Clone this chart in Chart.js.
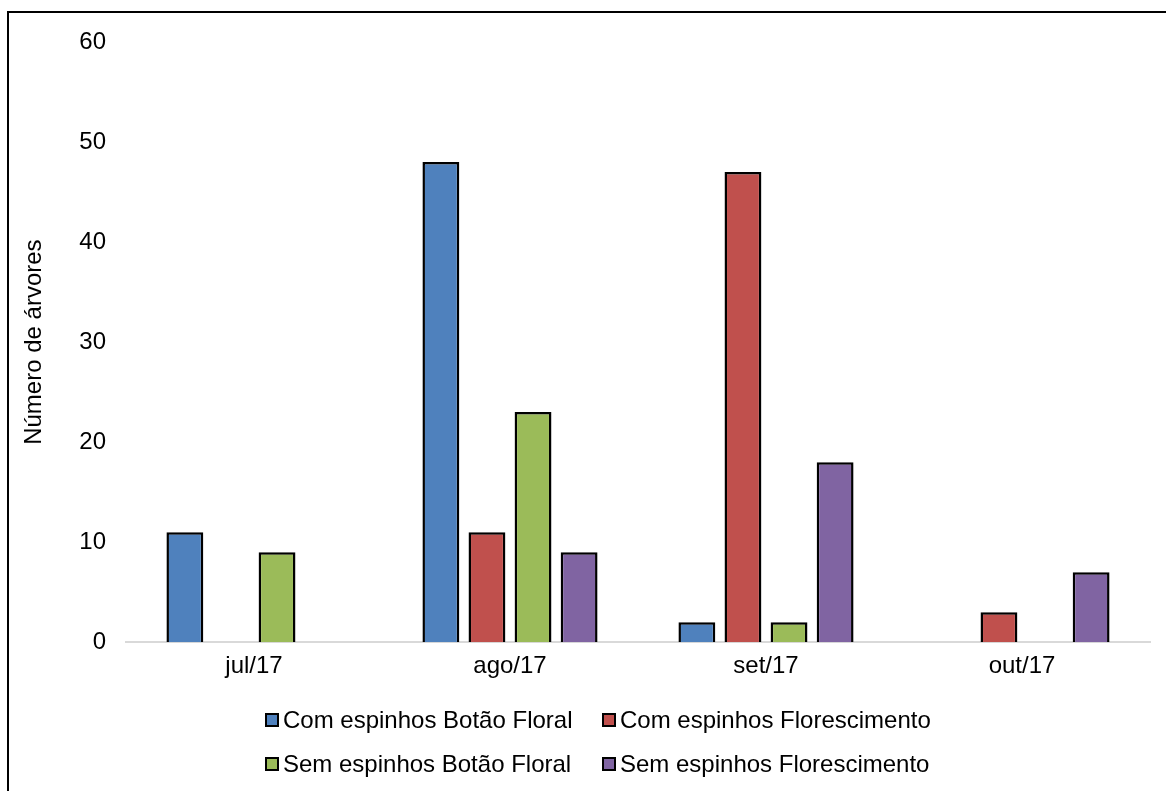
<!DOCTYPE html>
<html lang="pt">
<head>
<meta charset="utf-8">
<title>Número de árvores por mês</title>
<script src="https://cdn.jsdelivr.net/npm/chart.js@4"></script>
<style>
    html, body {
        margin: 0;
        padding: 0;
        background: #fff;
    }
    #wrap {
        position: relative;
        width: 1166px;
        height: 791px;
        overflow: hidden;
    }
    /* moldura do gráfico (cortada à direita e em baixo, como no original) */
    #frame {
        position: absolute;
        left: 7px;
        top: 11px;
        width: 1300px;
        height: 900px;
        border: 2px solid #000;
        box-sizing: border-box;
    }
    #chart {
        position: absolute;
        left: 0;
        top: 0;
    }
    #legend {
        position: absolute;
        left: 265px;
        top: 706px;
        display: grid;
        grid-template-columns: 337px auto;
        row-gap: 16px;
        font-family: "Liberation Sans", Arial, sans-serif;
        font-size: 24px;
        color: #000;
    }
    .item {
        display: flex;
        align-items: center;
        height: 28px;
        white-space: nowrap;
    }
    .box {
        width: 10px;
        height: 10px;
        border: 2px solid #000;
        margin-right: 4px;
    }
</style>
</head>
<body>
<div id="wrap">
    <div id="frame"></div>
    <canvas id="chart" width="1166" height="791"></canvas>
    <div id="legend"></div>
</div>
<script>
// Dados
const meses = ['jul/17', 'ago/17', 'set/17', 'out/17'];
const comBotao = [11, 48, 2, 0];
const comFlores = [0, 11, 47, 3];
const semBotao = [9, 23, 2, 0];
const semFlores = [0, 9, 18, 7];

const yTicks = [0, 10, 20, 30, 40, 50, 60];

const series = [
    { label: 'Com espinhos Botão Floral', data: comBotao, color: '#4F81BD' },
    { label: 'Com espinhos Florescimento', data: comFlores, color: '#C0504D' },
    { label: 'Sem espinhos Botão Floral', data: semBotao, color: '#9BBB59' },
    { label: 'Sem espinhos Florescimento', data: semFlores, color: '#8064A2' }
];

const fonte = '"Liberation Sans", Arial, sans-serif';

document.addEventListener('DOMContentLoaded', function() {
    const canvas = document.getElementById('chart');
    const ctx = canvas.getContext('2d');

    const chart = new Chart(ctx, {
        type: 'bar',
        data: {
            labels: meses,
            datasets: series.map(s => ({
                label: s.label,
                data: s.data,
                backgroundColor: s.color,
                borderColor: '#000',
                borderWidth: 2.5,
                categoryPercentage: 0.72,
                barPercentage: 0.8
            }))
        },
        options: {
            responsive: false,
            animation: false,
            devicePixelRatio: 1,
            layout: {
                padding: { top: 42, right: 16, bottom: 100, left: 0 }
            },
            plugins: {
                legend: { display: false },
                tooltip: { enabled: false }
            },
            scales: {
                x: {
                    grid: { display: false, drawTicks: false },
                    border: { display: true, color: '#D9D9D9', width: 2 },
                    ticks: {
                        color: '#000',
                        padding: 10,
                        font: { family: fonte, size: 24 }
                    }
                },
                y: {
                    min: 0,
                    max: 60,
                    afterBuildTicks: function(scale) {
                        scale.ticks = yTicks.map(v => ({ value: v }));
                    },
                    afterFit: function(scale) {
                        // largura fixa do eixo para alinhar a área de plotagem
                        scale.width = 126;
                    },
                    grid: { display: false, drawTicks: false },
                    border: { display: false },
                    ticks: {
                        color: '#000',
                        padding: 20,
                        font: { family: fonte, size: 24 }
                    },
                    title: {
                        display: true,
                        text: 'Número de árvores',
                        color: '#000',
                        padding: { top: 20, bottom: 0 },
                        font: { family: fonte, size: 24 }
                    }
                }
            }
        }
    });

    // Legenda em HTML, duas colunas como no original
    const legend = document.getElementById('legend');
    chart.data.datasets.forEach(function(ds) {
        const item = document.createElement('div');
        item.className = 'item';
        const box = document.createElement('span');
        box.className = 'box';
        box.style.background = ds.backgroundColor;
        const txt = document.createElement('span');
        txt.textContent = ds.label;
        item.appendChild(box);
        item.appendChild(txt);
        legend.appendChild(item);
    });
});
</script>
</body>
</html>
